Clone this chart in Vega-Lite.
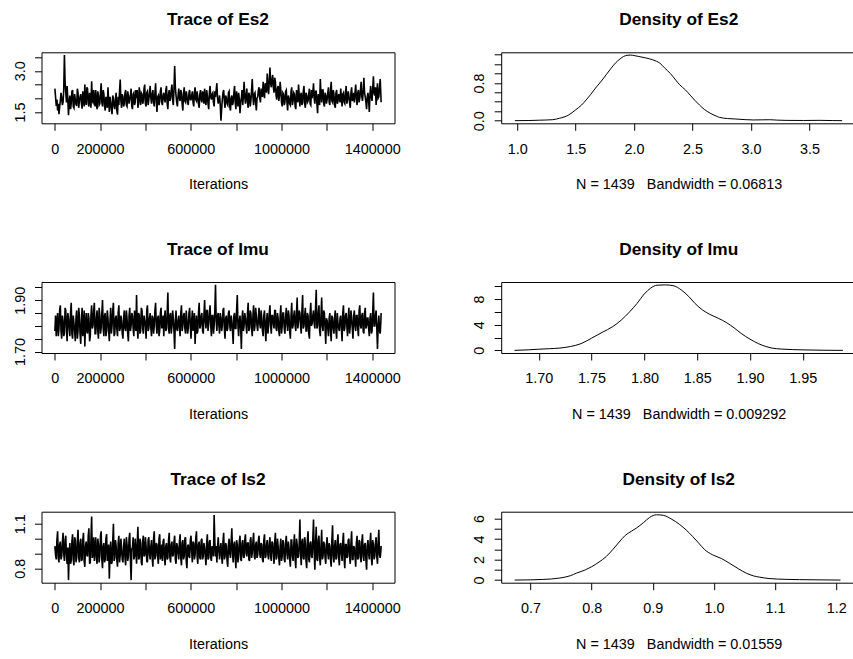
{
"$schema": "https://vega.github.io/schema/vega-lite/v6.json",
"padding": {"left": 10.5, "top": 10.3, "right": -4.5, "bottom": 0},
"background": "white",
"bounds": "flush",
"columns": 2,
"spacing": {"row": 158.7, "column": 106.7},
"config": {
  "font": "Liberation Sans",
  "view": {"stroke": "black", "strokeWidth": 1},
  "axis": {"domain": false, "grid": false, "ticks": true, "tickColor": "black", "tickSize": 7, "tickWidth": 1, "labelColor": "black", "labelFont": "Liberation Sans", "labelFontSize": 14.4, "titleFont": "Liberation Sans", "titleFontSize": 14.4, "titleFontWeight": "normal", "titleColor": "black", "labelOverlap": false, "labelFlush": false, "labelBound": false},
  "axisX": {"labelPadding": 11.8, "labelBaseline": "top", "labelAngle": 0, "labelAlign": "center", "titleBaseline": "top", "titleY": 54.5},
  "axisY": {"labelAngle": 270, "labelAlign": "center", "labelBaseline": "alphabetic", "labelPadding": 10.5},
  "title": {"font": "Liberation Sans", "fontSize": 17.3, "fontWeight": "bold", "color": "black", "offset": 23.5, "baseline": "alphabetic", "frame": "group", "anchor": "middle"}
},
"datasets": {
"tr": [
{"i":1000,"a":2.35,"b":1.78,"c":0.95},{"i":7000,"a":1.72,"b":1.76,"c":0.86},{"i":13000,"a":1.55,"b":1.85,"c":1.05},{"i":19000,"a":1.42,"b":1.79,"c":0.84},{"i":25000,"a":1.9,"b":1.88,"c":0.98},{"i":31000,"a":2.02,"b":1.75,"c":0.88},{"i":37000,"a":1.85,"b":1.82,"c":1.04},{"i":43000,"a":3.58,"b":1.77,"c":0.85},{"i":49000,"a":2.2,"b":1.86,"c":1.02},{"i":55000,"a":2.45,"b":1.74,"c":0.83},
{"i":61000,"a":1.38,"b":1.83,"c":0.72},{"i":67000,"a":2.1,"b":1.76,"c":0.97},{"i":73000,"a":1.8,"b":1.89,"c":0.85},{"i":79000,"a":2.3,"b":1.75,"c":1.03},{"i":85000,"a":1.65,"b":1.81,"c":0.82},{"i":91000,"a":1.95,"b":1.74,"c":0.99},{"i":97000,"a":1.72,"b":1.86,"c":0.87},{"i":103000,"a":2.2,"b":1.78,"c":1.06},{"i":109000,"a":1.9,"b":1.84,"c":0.84},{"i":115000,"a":2.15,"b":1.73,"c":1.00},
{"i":121000,"a":1.62,"b":1.87,"c":0.86},{"i":127000,"a":2.05,"b":1.79,"c":1.04},{"i":133000,"a":2.5,"b":1.72,"c":0.81},{"i":139000,"a":1.75,"b":1.85,"c":0.98},{"i":145000,"a":2.35,"b":1.77,"c":0.88},{"i":151000,"a":1.7,"b":1.83,"c":1.07},{"i":157000,"a":2.0,"b":1.76,"c":0.84},{"i":163000,"a":2.62,"b":1.88,"c":1.15},{"i":169000,"a":1.85,"b":1.80,"c":0.90},{"i":175000,"a":1.95,"b":1.89,"c":0.85},
{"i":181000,"a":2.3,"b":1.77,"c":1.01},{"i":187000,"a":1.6,"b":1.86,"c":0.83},{"i":193000,"a":2.1,"b":1.75,"c":0.96},{"i":199000,"a":1.8,"b":1.84,"c":0.88},{"i":205000,"a":2.55,"b":1.79,"c":1.05},{"i":211000,"a":1.7,"b":1.90,"c":0.80},{"i":217000,"a":2.15,"b":1.76,"c":0.97},{"i":223000,"a":1.55,"b":1.85,"c":0.86},{"i":229000,"a":1.9,"b":1.78,"c":1.03},{"i":235000,"a":2.4,"b":1.83,"c":0.89},
{"i":241000,"a":1.5,"b":1.74,"c":0.73},{"i":247000,"a":1.85,"b":1.87,"c":0.98},{"i":253000,"a":1.42,"b":1.80,"c":0.84},{"i":259000,"a":2.0,"b":1.89,"c":1.10},{"i":265000,"a":1.6,"b":1.77,"c":0.87},{"i":271000,"a":2.2,"b":1.84,"c":0.95},{"i":277000,"a":1.4,"b":1.76,"c":0.81},{"i":283000,"a":1.75,"b":1.88,"c":1.02},{"i":289000,"a":2.68,"b":1.79,"c":0.89},{"i":295000,"a":1.65,"b":1.82,"c":0.93},
{"i":301000,"a":2.05,"b":1.75,"c":0.84},{"i":307000,"a":1.8,"b":1.86,"c":1.00},{"i":313000,"a":2.3,"b":1.78,"c":0.82},{"i":319000,"a":1.7,"b":1.83,"c":0.96},{"i":325000,"a":2.1,"b":1.74,"c":0.88},{"i":331000,"a":1.95,"b":1.87,"c":1.04},{"i":337000,"a":2.35,"b":1.80,"c":0.72},{"i":343000,"a":1.6,"b":1.84,"c":0.94},{"i":349000,"a":2.2,"b":1.76,"c":0.86},{"i":355000,"a":1.85,"b":1.81,"c":1.00},
{"i":361000,"a":2.0,"b":1.92,"c":0.83},{"i":367000,"a":1.65,"b":1.75,"c":1.08},{"i":373000,"a":2.4,"b":1.84,"c":0.87},{"i":379000,"a":1.75,"b":1.78,"c":0.97},{"i":385000,"a":2.15,"b":1.86,"c":0.82},{"i":391000,"a":1.9,"b":1.77,"c":1.02},{"i":397000,"a":2.5,"b":1.82,"c":0.89},{"i":403000,"a":1.7,"b":1.75,"c":0.95},{"i":409000,"a":2.25,"b":1.88,"c":0.84},{"i":415000,"a":1.95,"b":1.79,"c":1.01},
{"i":421000,"a":2.45,"b":1.85,"c":0.86},{"i":427000,"a":1.8,"b":1.76,"c":0.99},{"i":433000,"a":2.3,"b":1.83,"c":0.81},{"i":439000,"a":1.7,"b":1.80,"c":1.05},{"i":445000,"a":2.55,"b":1.89,"c":0.88},{"i":451000,"a":1.5,"b":1.77,"c":0.96},{"i":457000,"a":2.1,"b":1.84,"c":0.83},{"i":463000,"a":1.9,"b":1.78,"c":1.03},{"i":469000,"a":2.4,"b":1.87,"c":0.90},{"i":475000,"a":1.75,"b":1.81,"c":0.85},
{"i":481000,"a":2.2,"b":1.76,"c":1.00},{"i":487000,"a":1.85,"b":1.86,"c":0.82},{"i":493000,"a":2.45,"b":1.79,"c":0.97},{"i":499000,"a":1.6,"b":1.93,"c":0.87},{"i":505000,"a":2.3,"b":1.77,"c":1.04},{"i":511000,"a":2.0,"b":1.85,"c":0.84},{"i":517000,"a":2.5,"b":1.80,"c":0.98},{"i":523000,"a":1.75,"b":1.83,"c":0.89},{"i":529000,"a":3.18,"b":1.71,"c":1.02},{"i":535000,"a":2.1,"b":1.86,"c":0.83},
{"i":541000,"a":1.7,"b":1.78,"c":0.95},{"i":547000,"a":2.35,"b":1.84,"c":0.86},{"i":553000,"a":1.9,"b":1.76,"c":1.03},{"i":559000,"a":2.2,"b":1.88,"c":0.82},{"i":565000,"a":1.55,"b":1.80,"c":0.99},{"i":571000,"a":2.4,"b":1.85,"c":0.88},{"i":577000,"a":1.85,"b":1.77,"c":1.01},{"i":583000,"a":2.1,"b":1.82,"c":0.80},{"i":589000,"a":1.75,"b":1.79,"c":0.96},{"i":595000,"a":2.3,"b":1.87,"c":0.87},
{"i":601000,"a":1.95,"b":1.75,"c":1.02},{"i":607000,"a":2.25,"b":1.86,"c":0.84},{"i":613000,"a":1.7,"b":1.81,"c":0.97},{"i":619000,"a":2.4,"b":1.73,"c":0.89},{"i":625000,"a":1.9,"b":1.84,"c":1.05},{"i":631000,"a":2.05,"b":1.78,"c":0.83},{"i":637000,"a":1.65,"b":1.89,"c":0.98},{"i":643000,"a":2.3,"b":1.80,"c":0.86},{"i":649000,"a":1.85,"b":1.85,"c":1.00},{"i":655000,"a":2.15,"b":1.77,"c":0.88},
{"i":661000,"a":2.35,"b":1.90,"c":0.94},{"i":667000,"a":1.75,"b":1.79,"c":0.82},{"i":673000,"a":2.1,"b":1.86,"c":1.03},{"i":679000,"a":1.6,"b":1.81,"c":0.87},{"i":685000,"a":2.45,"b":1.88,"c":0.99},{"i":691000,"a":1.95,"b":1.76,"c":0.85},{"i":697000,"a":2.2,"b":1.84,"c":0.92},{"i":703000,"a":1.7,"b":1.80,"c":1.16},{"i":709000,"a":2.05,"b":1.96,"c":0.88},{"i":715000,"a":2.55,"b":1.78,"c":0.84},
{"i":721000,"a":1.8,"b":1.85,"c":1.01},{"i":727000,"a":2.1,"b":1.77,"c":0.86},{"i":733000,"a":1.18,"b":1.83,"c":0.97},{"i":739000,"a":1.95,"b":1.80,"c":0.83},{"i":745000,"a":2.3,"b":1.87,"c":1.04},{"i":751000,"a":1.65,"b":1.75,"c":0.88},{"i":757000,"a":2.0,"b":1.84,"c":0.95},{"i":763000,"a":1.75,"b":1.79,"c":0.81},{"i":769000,"a":2.25,"b":1.86,"c":1.00},{"i":775000,"a":1.55,"b":1.78,"c":0.87},
{"i":781000,"a":2.1,"b":1.82,"c":1.07},{"i":787000,"a":1.85,"b":1.73,"c":0.84},{"i":793000,"a":2.45,"b":1.85,"c":0.98},{"i":799000,"a":1.6,"b":1.79,"c":0.80},{"i":805000,"a":1.95,"b":1.92,"c":0.96},{"i":811000,"a":2.2,"b":1.76,"c":0.89},{"i":817000,"a":1.45,"b":1.84,"c":1.02},{"i":823000,"a":2.0,"b":1.71,"c":0.85},{"i":829000,"a":1.75,"b":1.86,"c":0.99},{"i":835000,"a":2.6,"b":1.80,"c":0.87},
{"i":841000,"a":1.8,"b":1.83,"c":1.03},{"i":847000,"a":2.35,"b":1.77,"c":0.88},{"i":853000,"a":1.65,"b":1.89,"c":0.97},{"i":859000,"a":2.1,"b":1.79,"c":0.85},{"i":865000,"a":1.9,"b":1.85,"c":1.01},{"i":871000,"a":2.7,"b":1.76,"c":0.90},{"i":877000,"a":1.75,"b":1.88,"c":1.04},{"i":883000,"a":2.2,"b":1.80,"c":0.86},{"i":889000,"a":1.55,"b":1.84,"c":0.98},{"i":895000,"a":2.05,"b":1.78,"c":0.89},
{"i":901000,"a":2.4,"b":1.87,"c":1.02},{"i":907000,"a":1.85,"b":1.79,"c":0.87},{"i":913000,"a":2.2,"b":1.83,"c":0.96},{"i":919000,"a":2.6,"b":1.76,"c":0.84},{"i":925000,"a":2.0,"b":1.86,"c":1.03},{"i":931000,"a":2.45,"b":1.74,"c":0.88},{"i":937000,"a":2.9,"b":1.85,"c":0.99},{"i":943000,"a":2.15,"b":1.80,"c":0.86},{"i":949000,"a":3.12,"b":1.88,"c":1.01},{"i":955000,"a":2.4,"b":1.77,"c":0.85},
{"i":961000,"a":2.85,"b":1.84,"c":0.97},{"i":967000,"a":2.2,"b":1.79,"c":0.83},{"i":973000,"a":2.6,"b":1.86,"c":1.04},{"i":979000,"a":1.95,"b":1.78,"c":0.87},{"i":985000,"a":2.45,"b":1.83,"c":0.95},{"i":991000,"a":2.1,"b":1.76,"c":0.82},{"i":997000,"a":2.3,"b":1.88,"c":1.00},{"i":1003000,"a":1.7,"b":1.80,"c":0.88},{"i":1009000,"a":2.15,"b":1.85,"c":0.97},{"i":1015000,"a":1.85,"b":1.77,"c":0.84},
{"i":1021000,"a":2.3,"b":1.87,"c":1.02},{"i":1027000,"a":1.55,"b":1.78,"c":0.86},{"i":1033000,"a":2.0,"b":1.84,"c":0.94},{"i":1039000,"a":1.75,"b":1.75,"c":0.81},{"i":1045000,"a":2.4,"b":1.89,"c":0.99},{"i":1051000,"a":1.9,"b":1.80,"c":0.85},{"i":1057000,"a":2.15,"b":1.86,"c":1.03},{"i":1063000,"a":1.6,"b":1.78,"c":0.80},{"i":1069000,"a":2.05,"b":1.91,"c":0.96},{"i":1075000,"a":2.5,"b":1.82,"c":0.88},
{"i":1081000,"a":1.7,"b":1.85,"c":1.13},{"i":1087000,"a":2.2,"b":1.77,"c":0.82},{"i":1093000,"a":1.85,"b":1.92,"c":1.00},{"i":1099000,"a":2.45,"b":1.80,"c":0.86},{"i":1105000,"a":1.65,"b":1.87,"c":0.97},{"i":1111000,"a":2.1,"b":1.78,"c":0.80},{"i":1117000,"a":1.9,"b":1.84,"c":1.05},{"i":1123000,"a":2.35,"b":1.75,"c":0.84},{"i":1129000,"a":1.75,"b":1.89,"c":0.98},{"i":1135000,"a":2.0,"b":1.81,"c":0.87},
{"i":1141000,"a":2.55,"b":1.86,"c":1.13},{"i":1147000,"a":1.8,"b":1.79,"c":0.79},{"i":1153000,"a":2.25,"b":1.94,"c":1.08},{"i":1159000,"a":1.45,"b":1.80,"c":0.85},{"i":1165000,"a":2.0,"b":1.88,"c":1.02},{"i":1171000,"a":2.7,"b":1.76,"c":0.82},{"i":1177000,"a":1.85,"b":1.91,"c":1.06},{"i":1183000,"a":2.3,"b":1.78,"c":0.88},{"i":1189000,"a":1.7,"b":1.85,"c":0.96},{"i":1195000,"a":2.1,"b":1.73,"c":0.83},
{"i":1201000,"a":1.95,"b":1.82,"c":1.01},{"i":1207000,"a":2.4,"b":1.76,"c":0.86},{"i":1213000,"a":1.75,"b":1.85,"c":0.95},{"i":1219000,"a":2.6,"b":1.74,"c":0.81},{"i":1225000,"a":1.85,"b":1.83,"c":1.09},{"i":1231000,"a":2.15,"b":1.77,"c":0.84},{"i":1237000,"a":1.65,"b":1.86,"c":0.99},{"i":1243000,"a":2.3,"b":1.75,"c":0.87},{"i":1249000,"a":1.9,"b":1.81,"c":1.03},{"i":1255000,"a":2.05,"b":1.78,"c":0.82},
{"i":1261000,"a":2.35,"b":1.84,"c":0.97},{"i":1267000,"a":1.7,"b":1.74,"c":0.85},{"i":1273000,"a":2.2,"b":1.88,"c":1.04},{"i":1279000,"a":1.8,"b":1.79,"c":0.80},{"i":1285000,"a":2.45,"b":1.85,"c":0.96},{"i":1291000,"a":1.95,"b":1.76,"c":0.88},{"i":1297000,"a":2.1,"b":1.87,"c":1.00},{"i":1303000,"a":1.65,"b":1.80,"c":0.83},{"i":1309000,"a":2.4,"b":1.83,"c":1.05},{"i":1315000,"a":2.0,"b":1.75,"c":0.86},
{"i":1321000,"a":1.85,"b":1.86,"c":0.94},{"i":1327000,"a":2.5,"b":1.78,"c":0.81},{"i":1333000,"a":1.75,"b":1.84,"c":1.02},{"i":1339000,"a":2.3,"b":1.76,"c":0.87},{"i":1345000,"a":2.0,"b":1.88,"c":0.98},{"i":1351000,"a":2.6,"b":1.79,"c":0.84},{"i":1357000,"a":1.9,"b":1.85,"c":1.03},{"i":1363000,"a":2.75,"b":1.77,"c":0.85},{"i":1369000,"a":2.05,"b":1.87,"c":0.97},{"i":1375000,"a":1.6,"b":1.80,"c":0.79},
{"i":1381000,"a":2.2,"b":1.83,"c":0.99},{"i":1387000,"a":1.5,"b":1.76,"c":0.86},{"i":1393000,"a":2.45,"b":1.85,"c":1.04},{"i":1399000,"a":1.9,"b":1.78,"c":0.82},{"i":1405000,"a":2.8,"b":1.93,"c":0.96},{"i":1411000,"a":2.1,"b":1.80,"c":0.88},{"i":1417000,"a":1.75,"b":1.86,"c":1.01},{"i":1423000,"a":2.55,"b":1.71,"c":0.83},{"i":1429000,"a":2.05,"b":1.84,"c":1.06},{"i":1435000,"a":2.7,"b":1.77,"c":0.87},
{"i":1439000,"a":1.85,"b":1.85,"c":0.95},
{"i":4000,"a":2.05,"b":1.84,"c":0.89},{"i":10000,"a":1.95,"b":1.81,"c":0.99},{"i":16000,"a":1.80,"b":1.76,"c":0.87},{"i":22000,"a":1.68,"b":1.86,"c":0.96},{"i":28000,"a":2.20,"b":1.78,"c":0.86},{"i":34000,"a":1.75,"b":1.84,"c":0.97},{"i":40000,"a":2.3,"b":1.76,"c":0.90},{"i":46000,"a":2.6,"b":1.87,"c":0.99},{"i":52000,"a":1.85,"b":1.79,"c":0.88},{"i":58000,"a":1.95,"b":1.85,"c":0.94},
{"i":64000,"a":1.85,"b":1.79,"c":0.90},{"i":70000,"a":1.6,"b":1.85,"c":0.83},{"i":76000,"a":2.25,"b":1.77,"c":0.98},{"i":82000,"a":1.7,"b":1.84,"c":0.86},{"i":88000,"a":2.15,"b":1.78,"c":1.01},{"i":94000,"a":1.78,"b":1.83,"c":0.84},{"i":100000,"a":2.35,"b":1.75,"c":0.98},{"i":106000,"a":1.65,"b":1.87,"c":0.87},{"i":112000,"a":2.05,"b":1.77,"c":0.97},{"i":118000,"a":1.8,"b":1.82,"c":0.85},
{"i":124000,"a":2.25,"b":1.76,"c":0.99},{"i":130000,"a":1.7,"b":1.86,"c":0.85},{"i":136000,"a":1.95,"b":1.80,"c":0.95},{"i":142000,"a":2.4,"b":1.78,"c":0.89},{"i":148000,"a":1.8,"b":1.85,"c":1.02},{"i":154000,"a":2.2,"b":1.74,"c":0.83},{"i":160000,"a":1.65,"b":1.84,"c":0.99},{"i":166000,"a":1.9,"b":1.79,"c":0.87},{"i":172000,"a":2.3,"b":1.86,"c":1.01},{"i":178000,"a":1.7,"b":1.77,"c":0.93},
{"i":184000,"a":1.8,"b":1.83,"c":0.87},{"i":190000,"a":2.25,"b":1.78,"c":1.00},{"i":196000,"a":1.75,"b":1.87,"c":0.84},{"i":202000,"a":2.2,"b":1.77,"c":1.02},{"i":208000,"a":1.85,"b":1.85,"c":0.86},{"i":214000,"a":2.3,"b":1.79,"c":0.95},{"i":220000,"a":1.7,"b":1.84,"c":0.84},{"i":226000,"a":2.05,"b":1.76,"c":1.00},{"i":232000,"a":1.65,"b":1.86,"c":0.85},{"i":238000,"a":1.9,"b":1.78,"c":0.96},
{"i":244000,"a":2.05,"b":1.82,"c":0.90},{"i":250000,"a":1.6,"b":1.77,"c":0.83},{"i":256000,"a":2.1,"b":1.86,"c":0.98},{"i":262000,"a":1.7,"b":1.76,"c":0.85},{"i":268000,"a":1.95,"b":1.83,"c":0.99},{"i":274000,"a":1.55,"b":1.79,"c":0.86},{"i":280000,"a":2.05,"b":1.85,"c":0.97},{"i":286000,"a":2.25,"b":1.78,"c":0.84},{"i":292000,"a":1.9,"b":1.84,"c":1.00},{"i":298000,"a":2.15,"b":1.77,"c":0.86},
{"i":304000,"a":1.7,"b":1.83,"c":0.95},{"i":310000,"a":2.2,"b":1.79,"c":0.87},{"i":316000,"a":1.75,"b":1.86,"c":1.01},{"i":322000,"a":2.25,"b":1.77,"c":0.85},{"i":328000,"a":1.8,"b":1.84,"c":1.00},{"i":334000,"a":2.1,"b":1.78,"c":0.86},{"i":340000,"a":1.7,"b":1.85,"c":0.93},{"i":346000,"a":2.15,"b":1.79,"c":1.01},{"i":352000,"a":1.75,"b":1.86,"c":0.88},{"i":358000,"a":2.3,"b":1.78,"c":0.92},
{"i":364000,"a":2.3,"b":1.80,"c":0.97},{"i":370000,"a":1.85,"b":1.85,"c":0.86},{"i":376000,"a":2.0,"b":1.77,"c":1.00},{"i":382000,"a":2.2,"b":1.87,"c":0.84},{"i":388000,"a":1.8,"b":1.79,"c":0.98},{"i":394000,"a":2.35,"b":1.84,"c":0.88},{"i":400000,"a":1.8,"b":1.80,"c":1.01},{"i":406000,"a":2.2,"b":1.86,"c":0.85},{"i":412000,"a":1.75,"b":1.78,"c":0.99},{"i":418000,"a":2.2,"b":1.83,"c":0.89},
{"i":424000,"a":2.0,"b":1.79,"c":0.95},{"i":430000,"a":2.15,"b":1.84,"c":0.87},{"i":436000,"a":1.85,"b":1.77,"c":1.00},{"i":442000,"a":2.2,"b":1.86,"c":0.86},{"i":448000,"a":1.9,"b":1.80,"c":0.97},{"i":454000,"a":2.05,"b":1.83,"c":0.88},{"i":460000,"a":1.75,"b":1.76,"c":1.00},{"i":466000,"a":2.25,"b":1.85,"c":0.86},{"i":472000,"a":1.85,"b":1.79,"c":0.96},{"i":478000,"a":2.1,"b":1.84,"c":0.98},
{"i":484000,"a":1.95,"b":1.83,"c":0.87},{"i":490000,"a":2.3,"b":1.78,"c":0.95},{"i":496000,"a":1.8,"b":1.85,"c":0.86},{"i":502000,"a":2.15,"b":1.79,"c":0.99},{"i":508000,"a":1.9,"b":1.84,"c":0.87},{"i":514000,"a":2.3,"b":1.77,"c":0.96},{"i":520000,"a":1.95,"b":1.86,"c":0.88},{"i":526000,"a":2.35,"b":1.78,"c":0.98},{"i":532000,"a":2.4,"b":1.82,"c":0.86},{"i":538000,"a":1.85,"b":1.79,"c":0.97},
{"i":544000,"a":2.1,"b":1.82,"c":0.90},{"i":550000,"a":2.0,"b":1.79,"c":0.98},{"i":556000,"a":2.3,"b":1.85,"c":0.87},{"i":562000,"a":1.8,"b":1.78,"c":0.97},{"i":568000,"a":2.15,"b":1.84,"c":0.86},{"i":574000,"a":1.9,"b":1.79,"c":1.00},{"i":580000,"a":2.25,"b":1.86,"c":0.85},{"i":586000,"a":1.85,"b":1.77,"c":0.95},{"i":592000,"a":2.2,"b":1.85,"c":0.88},{"i":598000,"a":1.95,"b":1.80,"c":0.99},
{"i":604000,"a":2.1,"b":1.82,"c":0.91},{"i":610000,"a":1.85,"b":1.78,"c":0.98},{"i":616000,"a":2.2,"b":1.85,"c":0.86},{"i":622000,"a":1.95,"b":1.80,"c":1.00},{"i":628000,"a":2.25,"b":1.77,"c":0.88},{"i":634000,"a":1.8,"b":1.85,"c":0.96},{"i":640000,"a":2.15,"b":1.79,"c":0.87},{"i":646000,"a":1.95,"b":1.84,"c":0.99},{"i":652000,"a":2.25,"b":1.78,"c":0.86},{"i":658000,"a":1.8,"b":1.84,"c":0.97},
{"i":664000,"a":1.9,"b":1.82,"c":0.88},{"i":670000,"a":2.3,"b":1.86,"c":0.97},{"i":676000,"a":1.8,"b":1.78,"c":0.86},{"i":682000,"a":2.2,"b":1.85,"c":0.98},{"i":688000,"a":2.05,"b":1.80,"c":0.87},{"i":694000,"a":2.15,"b":1.84,"c":0.95},{"i":700000,"a":1.85,"b":1.77,"c":0.88},{"i":706000,"a":2.25,"b":1.86,"c":0.98},{"i":712000,"a":2.3,"b":1.82,"c":0.95},{"i":718000,"a":2.0,"b":1.84,"c":0.94},
{"i":724000,"a":1.95,"b":1.80,"c":0.92},{"i":730000,"a":1.75,"b":1.85,"c":0.94},{"i":736000,"a":1.6,"b":1.78,"c":0.88},{"i":742000,"a":2.2,"b":1.86,"c":0.98},{"i":748000,"a":1.9,"b":1.79,"c":0.86},{"i":754000,"a":2.1,"b":1.83,"c":0.97},{"i":760000,"a":1.8,"b":1.78,"c":0.85},{"i":766000,"a":2.2,"b":1.85,"c":0.96},{"i":772000,"a":1.7,"b":1.80,"c":0.90},{"i":778000,"a":2.0,"b":1.84,"c":0.98},
{"i":784000,"a":1.75,"b":1.78,"c":0.90},{"i":790000,"a":2.2,"b":1.84,"c":0.96},{"i":796000,"a":1.85,"b":1.79,"c":0.87},{"i":802000,"a":2.25,"b":1.86,"c":0.99},{"i":808000,"a":1.7,"b":1.80,"c":0.84},{"i":814000,"a":1.95,"b":1.82,"c":0.98},{"i":820000,"a":1.85,"b":1.79,"c":0.86},{"i":826000,"a":2.3,"b":1.83,"c":0.97},{"i":832000,"a":2.1,"b":1.78,"c":0.88},{"i":838000,"a":2.05,"b":1.85,"c":0.99},
{"i":844000,"a":2.1,"b":1.80,"c":0.90},{"i":850000,"a":1.85,"b":1.85,"c":0.97},{"i":856000,"a":2.2,"b":1.78,"c":0.86},{"i":862000,"a":1.7,"b":1.86,"c":0.99},{"i":868000,"a":2.3,"b":1.79,"c":0.87},{"i":874000,"a":2.05,"b":1.84,"c":0.98},{"i":880000,"a":2.15,"b":1.78,"c":0.88},{"i":886000,"a":1.85,"b":1.87,"c":0.96},{"i":892000,"a":2.0,"b":1.80,"c":0.87},{"i":898000,"a":2.3,"b":1.83,"c":0.99},
{"i":904000,"a":2.0,"b":1.81,"c":0.90},{"i":910000,"a":2.35,"b":1.86,"c":0.97},{"i":916000,"a":2.05,"b":1.78,"c":0.86},{"i":922000,"a":2.25,"b":1.84,"c":0.99},{"i":928000,"a":2.55,"b":1.79,"c":0.87},{"i":934000,"a":2.2,"b":1.82,"c":0.96},{"i":940000,"a":2.5,"b":1.77,"c":0.89},{"i":946000,"a":2.6,"b":1.85,"c":0.97},{"i":952000,"a":2.55,"b":1.80,"c":0.88},{"i":958000,"a":2.7,"b":1.84,"c":0.98},
{"i":964000,"a":2.4,"b":1.81,"c":0.90},{"i":970000,"a":2.75,"b":1.86,"c":0.98},{"i":976000,"a":2.1,"b":1.79,"c":0.86},{"i":982000,"a":2.35,"b":1.85,"c":1.00},{"i":988000,"a":1.9,"b":1.78,"c":0.87},{"i":994000,"a":2.6,"b":1.84,"c":0.95},{"i":1000000,"a":1.85,"b":1.77,"c":0.85},{"i":1006000,"a":2.2,"b":1.85,"c":0.99},{"i":1012000,"a":1.75,"b":1.79,"c":0.86},{"i":1018000,"a":2.25,"b":1.83,"c":0.97},
{"i":1024000,"a":1.85,"b":1.81,"c":0.90},{"i":1030000,"a":2.1,"b":1.86,"c":0.98},{"i":1036000,"a":1.8,"b":1.78,"c":0.86},{"i":1042000,"a":2.25,"b":1.84,"c":0.99},{"i":1048000,"a":1.75,"b":1.79,"c":0.88},{"i":1054000,"a":2.2,"b":1.84,"c":0.96},{"i":1060000,"a":1.7,"b":1.80,"c":0.86},{"i":1066000,"a":2.3,"b":1.85,"c":1.00},{"i":1072000,"a":1.85,"b":1.79,"c":0.87},{"i":1078000,"a":2.1,"b":1.86,"c":0.97},
{"i":1084000,"a":2.1,"b":1.80,"c":0.90},{"i":1090000,"a":1.75,"b":1.86,"c":0.98},{"i":1096000,"a":2.25,"b":1.79,"c":0.87},{"i":1102000,"a":1.8,"b":1.84,"c":1.01},{"i":1108000,"a":2.2,"b":1.78,"c":0.85},{"i":1114000,"a":1.85,"b":1.85,"c":0.99},{"i":1120000,"a":2.15,"b":1.77,"c":0.86},{"i":1126000,"a":1.8,"b":1.85,"c":0.97},{"i":1132000,"a":2.3,"b":1.80,"c":0.88},{"i":1138000,"a":2.2,"b":1.84,"c":1.00},
{"i":1144000,"a":2.0,"b":1.81,"c":0.91},{"i":1150000,"a":2.25,"b":1.87,"c":0.97},{"i":1156000,"a":1.8,"b":1.79,"c":0.86},{"i":1162000,"a":2.15,"b":1.85,"c":0.99},{"i":1168000,"a":1.75,"b":1.78,"c":0.87},{"i":1174000,"a":2.1,"b":1.84,"c":0.95},{"i":1180000,"a":2.3,"b":1.80,"c":0.86},{"i":1186000,"a":1.8,"b":1.86,"c":0.98},{"i":1192000,"a":2.2,"b":1.79,"c":0.87},{"i":1198000,"a":1.8,"b":1.83,"c":0.96},
{"i":1204000,"a":2.2,"b":1.79,"c":0.90},{"i":1210000,"a":1.85,"b":1.83,"c":0.97},{"i":1216000,"a":2.25,"b":1.78,"c":0.86},{"i":1222000,"a":1.9,"b":1.84,"c":0.99},{"i":1228000,"a":2.3,"b":1.79,"c":0.88},{"i":1234000,"a":1.75,"b":1.83,"c":0.95},{"i":1240000,"a":2.2,"b":1.78,"c":0.86},{"i":1246000,"a":1.8,"b":1.85,"c":0.98},{"i":1252000,"a":2.15,"b":1.79,"c":0.87},{"i":1258000,"a":1.85,"b":1.83,"c":0.96},
{"i":1264000,"a":2.0,"b":1.79,"c":0.90},{"i":1270000,"a":2.15,"b":1.85,"c":0.98},{"i":1276000,"a":1.85,"b":1.78,"c":0.86},{"i":1282000,"a":2.2,"b":1.84,"c":0.96},{"i":1288000,"a":1.8,"b":1.80,"c":0.87},{"i":1294000,"a":2.25,"b":1.83,"c":0.99},{"i":1300000,"a":1.85,"b":1.77,"c":0.88},{"i":1306000,"a":2.2,"b":1.86,"c":0.97},{"i":1312000,"a":1.9,"b":1.79,"c":0.86},{"i":1318000,"a":2.2,"b":1.84,"c":0.95},
{"i":1324000,"a":2.2,"b":1.80,"c":0.88},{"i":1330000,"a":2.0,"b":1.84,"c":0.97},{"i":1336000,"a":2.2,"b":1.79,"c":0.86},{"i":1342000,"a":1.85,"b":1.86,"c":0.99},{"i":1348000,"a":2.3,"b":1.80,"c":0.87},{"i":1354000,"a":2.05,"b":1.84,"c":0.98},{"i":1360000,"a":2.25,"b":1.78,"c":0.88},{"i":1366000,"a":2.2,"b":1.85,"c":0.96},{"i":1372000,"a":1.85,"b":1.79,"c":0.86},{"i":1378000,"a":2.05,"b":1.83,"c":0.95},
{"i":1384000,"a":1.9,"b":1.79,"c":0.90},{"i":1390000,"a":2.15,"b":1.83,"c":0.97},{"i":1396000,"a":2.05,"b":1.77,"c":0.87},{"i":1402000,"a":2.35,"b":1.85,"c":0.99},{"i":1408000,"a":2.2,"b":1.80,"c":0.86},{"i":1414000,"a":2.4,"b":1.84,"c":0.97},{"i":1420000,"a":2.2,"b":1.79,"c":0.88},{"i":1426000,"a":2.0,"b":1.80,"c":0.98},{"i":1432000,"a":2.4,"b":1.78,"c":0.89},{"i":1438000,"a":2.1,"b":1.82,"c":0.92}
]
},
"concat": [
{
  "title": "Trace of Es2",
  "width": 353, "height": 71,
  "data": {"name": "tr"},
  "mark": {"type": "line", "color": "black", "strokeWidth": 1.6, "clip": true},
  "encoding": {
    "x": {"field": "i", "type": "quantitative", "scale": {"domain": [-58000, 1498000], "nice": false, "zero": false},
      "axis": {"title": "Iterations", "values": [0,200000,400000,600000,800000,1000000,1200000,1400000], "format": "d", "labelExpr": "datum.value == 400000 || datum.value == 800000 || datum.value == 1200000 ? '' : datum.label"}},
    "y": {"field": "a", "type": "quantitative", "scale": {"domain": [1.084, 3.679], "nice": false, "zero": false},
      "axis": {"title": null, "values": [1.5,2,2.5,3,3.5], "format": ".1f", "labelExpr": "datum.value == 1.5 || datum.value == 3 ? datum.label : ''"}}
  }
},
{
  "title": "Density of Es2",
  "width": 355, "height": 71,
  "encoding": {
    "x": {"field": "x", "type": "quantitative", "scale": {"domain": [0.863, 3.9], "nice": false, "zero": false},
      "axis": {"title": "N = 1439\u00a0\u00a0\u00a0Bandwidth = 0.06813", "values": [1,1.5,2,2.5,3,3.5], "format": ".1f"}},
    "y": {"field": "d", "type": "quantitative", "scale": {"domain": [-0.0557, 1.449], "nice": false, "zero": false},
      "axis": {"title": null, "values": [0,0.2,0.4,0.6,0.8,1,1.2,1.4], "format": ".1f", "labelExpr": "datum.value == 0 || datum.value == 0.8 ? datum.label : ''"}}
  },
  "layer": [
    {"data": {"values": [{"x":0.98,"d":0},{"x":1.1,"d":0.003},{"x":1.19,"d":0.01},{"x":1.3,"d":0.02},{"x":1.36,"d":0.05},{"x":1.44,"d":0.12},{"x":1.5,"d":0.23},{"x":1.55,"d":0.33},{"x":1.59,"d":0.44},{"x":1.63,"d":0.56},{"x":1.67,"d":0.69},{"x":1.72,"d":0.84},{"x":1.76,"d":0.97},{"x":1.8,"d":1.1},{"x":1.84,"d":1.22},{"x":1.88,"d":1.31},{"x":1.91,"d":1.36},{"x":1.94,"d":1.385},{"x":1.97,"d":1.39},{"x":2.0,"d":1.38},{"x":2.04,"d":1.36},{"x":2.1,"d":1.33},{"x":2.16,"d":1.29},{"x":2.19,"d":1.26},{"x":2.22,"d":1.22},{"x":2.26,"d":1.12},{"x":2.31,"d":1.0},{"x":2.35,"d":0.88},{"x":2.39,"d":0.76},{"x":2.44,"d":0.65},{"x":2.48,"d":0.54},{"x":2.52,"d":0.43},{"x":2.56,"d":0.33},{"x":2.6,"d":0.24},{"x":2.65,"d":0.16},{"x":2.7,"d":0.1},{"x":2.73,"d":0.07},{"x":2.8,"d":0.045},{"x":2.87,"d":0.035},{"x":2.95,"d":0.022},{"x":3.02,"d":0.015},{"x":3.1,"d":0.018},{"x":3.16,"d":0.02},{"x":3.22,"d":0.012},{"x":3.3,"d":0.006},{"x":3.45,"d":0.004},{"x":3.59,"d":0.007},{"x":3.7,"d":0.002},{"x":3.78,"d":0}]},
     "mark": {"type": "line", "color": "black", "strokeWidth": 1, "interpolate": "monotone"}},
    {"data": {"values": [{"x":0.98,"x2":3.78}]}, "mark": {"type": "rule", "color": "#9a9a9a", "strokeWidth": 1.5}, "encoding": {"x2": {"field": "x2"}, "y": {"datum": 0}}},
    {"data": {"values": [{"x":1.40,"x2":2.70}]}, "mark": {"type": "rule", "color": "black", "strokeWidth": 2.5}, "encoding": {"x2": {"field": "x2"}, "y": {"datum": 0}}},
    {"data": {"values": [{"x":1.19},{"x":1.31},{"x":1.34},{"x":1.37},{"x":1.39},{"x":2.72},{"x":2.75},{"x":2.78},{"x":2.81},{"x":2.84},{"x":2.88},{"x":3.12},{"x":3.16},{"x":3.58}]},
     "mark": {"type": "tick", "color": "black", "orient": "vertical", "size": 3, "thickness": 1}, "encoding": {"y": {"datum": 0}}}
  ]
},
{
  "title": "Trace of Imu",
  "width": 353, "height": 71,
  "data": {"name": "tr"},
  "mark": {"type": "line", "color": "black", "strokeWidth": 1.6, "clip": true},
  "encoding": {
    "x": {"field": "i", "type": "quantitative", "scale": {"domain": [-58000, 1498000], "nice": false, "zero": false},
      "axis": {"title": "Iterations", "values": [0,200000,400000,600000,800000,1000000,1200000,1400000], "format": "d", "labelExpr": "datum.value == 400000 || datum.value == 800000 || datum.value == 1200000 ? '' : datum.label"}},
    "y": {"field": "b", "type": "quantitative", "scale": {"domain": [1.6946, 1.9705], "nice": false, "zero": false},
      "axis": {"title": null, "values": [1.7,1.75,1.8,1.85,1.9,1.95], "format": ".2f", "labelExpr": "datum.value == 1.7 || datum.value == 1.9 ? datum.label : ''"}}
  }
},
{
  "title": "Density of Imu",
  "width": 355, "height": 71,
  "encoding": {
    "x": {"field": "x", "type": "quantitative", "scale": {"domain": [1.6644, 2.0006], "nice": false, "zero": false},
      "axis": {"title": "N = 1439\u00a0\u00a0\u00a0Bandwidth = 0.009292", "values": [1.7,1.75,1.8,1.85,1.9,1.95], "format": ".2f"}},
    "y": {"field": "d", "type": "quantitative", "scale": {"domain": [-0.41, 10.65], "nice": false, "zero": false},
      "axis": {"title": null, "values": [0,2,4,6,8,10], "format": "d", "labelExpr": "datum.value == 0 || datum.value == 4 || datum.value == 8 ? datum.label : ''"}}
  },
  "layer": [
    {"data": {"values": [{"x":1.677,"d":0},{"x":1.69,"d":0.08},{"x":1.70,"d":0.18},{"x":1.71,"d":0.26},{"x":1.72,"d":0.36},{"x":1.73,"d":0.6},{"x":1.74,"d":1.05},{"x":1.75,"d":1.9},{"x":1.76,"d":2.8},{"x":1.77,"d":3.7},{"x":1.778,"d":4.7},{"x":1.786,"d":6.0},{"x":1.793,"d":7.3},{"x":1.80,"d":8.8},{"x":1.806,"d":9.7},{"x":1.812,"d":10.15},{"x":1.82,"d":10.2},{"x":1.828,"d":10.05},{"x":1.835,"d":9.4},{"x":1.842,"d":8.4},{"x":1.848,"d":7.3},{"x":1.855,"d":6.3},{"x":1.862,"d":5.6},{"x":1.87,"d":5.0},{"x":1.878,"d":4.3},{"x":1.885,"d":3.5},{"x":1.892,"d":2.6},{"x":1.90,"d":1.75},{"x":1.908,"d":1.05},{"x":1.915,"d":0.6},{"x":1.92,"d":0.38},{"x":1.93,"d":0.2},{"x":1.94,"d":0.12},{"x":1.955,"d":0.06},{"x":1.97,"d":0.02},{"x":1.988,"d":0}]},
     "mark": {"type": "line", "color": "black", "strokeWidth": 1, "interpolate": "monotone"}},
    {"data": {"values": [{"x":1.677,"x2":1.988}]}, "mark": {"type": "rule", "color": "#9a9a9a", "strokeWidth": 1.5}, "encoding": {"x2": {"field": "x2"}, "y": {"datum": 0}}},
    {"data": {"values": [{"x":1.735,"x2":1.895}]}, "mark": {"type": "rule", "color": "black", "strokeWidth": 2.5}, "encoding": {"x2": {"field": "x2"}, "y": {"datum": 0}}},
    {"data": {"values": [{"x":1.705},{"x":1.71},{"x":1.715},{"x":1.72},{"x":1.725},{"x":1.73},{"x":1.90},{"x":1.905},{"x":1.91},{"x":1.915},{"x":1.92},{"x":1.93},{"x":1.96}]},
     "mark": {"type": "tick", "color": "black", "orient": "vertical", "size": 3, "thickness": 1}, "encoding": {"y": {"datum": 0}}}
  ]
},
{
  "title": "Trace of Is2",
  "width": 353, "height": 71,
  "data": {"name": "tr"},
  "mark": {"type": "line", "color": "black", "strokeWidth": 1.6, "clip": true},
  "encoding": {
    "x": {"field": "i", "type": "quantitative", "scale": {"domain": [-58000, 1498000], "nice": false, "zero": false},
      "axis": {"title": "Iterations", "values": [0,200000,400000,600000,800000,1000000,1200000,1400000], "format": "d", "labelExpr": "datum.value == 400000 || datum.value == 800000 || datum.value == 1200000 ? '' : datum.label"}},
    "y": {"field": "c", "type": "quantitative", "scale": {"domain": [0.7025, 1.1822], "nice": false, "zero": false},
      "axis": {"title": null, "values": [0.8,0.9,1.0,1.1], "format": ".1f", "labelExpr": "datum.value == 0.8 || datum.value == 1.1 ? datum.label : ''"}}
  }
},
{
  "title": "Density of Is2",
  "width": 355, "height": 71,
  "encoding": {
    "x": {"field": "x", "type": "quantitative", "scale": {"domain": [0.652, 1.2327], "nice": false, "zero": false},
      "axis": {"title": "N = 1439\u00a0\u00a0\u00a0Bandwidth = 0.01559", "values": [0.7,0.8,0.9,1.0,1.1,1.2], "format": ".1f"}},
    "y": {"field": "d", "type": "quantitative", "scale": {"domain": [-0.256, 6.65], "nice": false, "zero": false},
      "axis": {"title": null, "values": [0,1,2,3,4,5,6], "format": "d", "labelExpr": "datum.value == 0 || datum.value == 2 || datum.value == 4 || datum.value == 6 ? datum.label : ''"}}
  },
  "layer": [
    {"data": {"values": [{"x":0.674,"d":0},{"x":0.70,"d":0.02},{"x":0.72,"d":0.06},{"x":0.748,"d":0.2},{"x":0.765,"d":0.42},{"x":0.775,"d":0.67},{"x":0.79,"d":1.0},{"x":0.80,"d":1.3},{"x":0.812,"d":1.75},{"x":0.824,"d":2.3},{"x":0.835,"d":3.0},{"x":0.845,"d":3.7},{"x":0.855,"d":4.35},{"x":0.865,"d":4.75},{"x":0.873,"d":5.05},{"x":0.885,"d":5.6},{"x":0.895,"d":6.1},{"x":0.906,"d":6.35},{"x":0.917,"d":6.3},{"x":0.93,"d":5.95},{"x":0.944,"d":5.4},{"x":0.955,"d":4.85},{"x":0.965,"d":4.25},{"x":0.975,"d":3.6},{"x":0.985,"d":2.95},{"x":0.998,"d":2.45},{"x":1.012,"d":2.1},{"x":1.025,"d":1.65},{"x":1.04,"d":1.1},{"x":1.053,"d":0.67},{"x":1.065,"d":0.4},{"x":1.075,"d":0.28},{"x":1.09,"d":0.15},{"x":1.118,"d":0.07},{"x":1.14,"d":0.04},{"x":1.172,"d":0.02},{"x":1.207,"d":0}]},
     "mark": {"type": "line", "color": "black", "strokeWidth": 1, "interpolate": "monotone"}},
    {"data": {"values": [{"x":0.674,"x2":1.207}]}, "mark": {"type": "rule", "color": "#9a9a9a", "strokeWidth": 1.5}, "encoding": {"x2": {"field": "x2"}, "y": {"datum": 0}}},
    {"data": {"values": [{"x":0.79,"x2":1.04}]}, "mark": {"type": "rule", "color": "black", "strokeWidth": 2.5}, "encoding": {"x2": {"field": "x2"}, "y": {"datum": 0}}},
    {"data": {"values": [{"x":0.72},{"x":0.735},{"x":0.76},{"x":0.765},{"x":0.77},{"x":0.78},{"x":1.045},{"x":1.05},{"x":1.055},{"x":1.06},{"x":1.07},{"x":1.10},{"x":1.12},{"x":1.16}]},
     "mark": {"type": "tick", "color": "black", "orient": "vertical", "size": 3, "thickness": 1}, "encoding": {"y": {"datum": 0}}}
  ]
}
]
}
